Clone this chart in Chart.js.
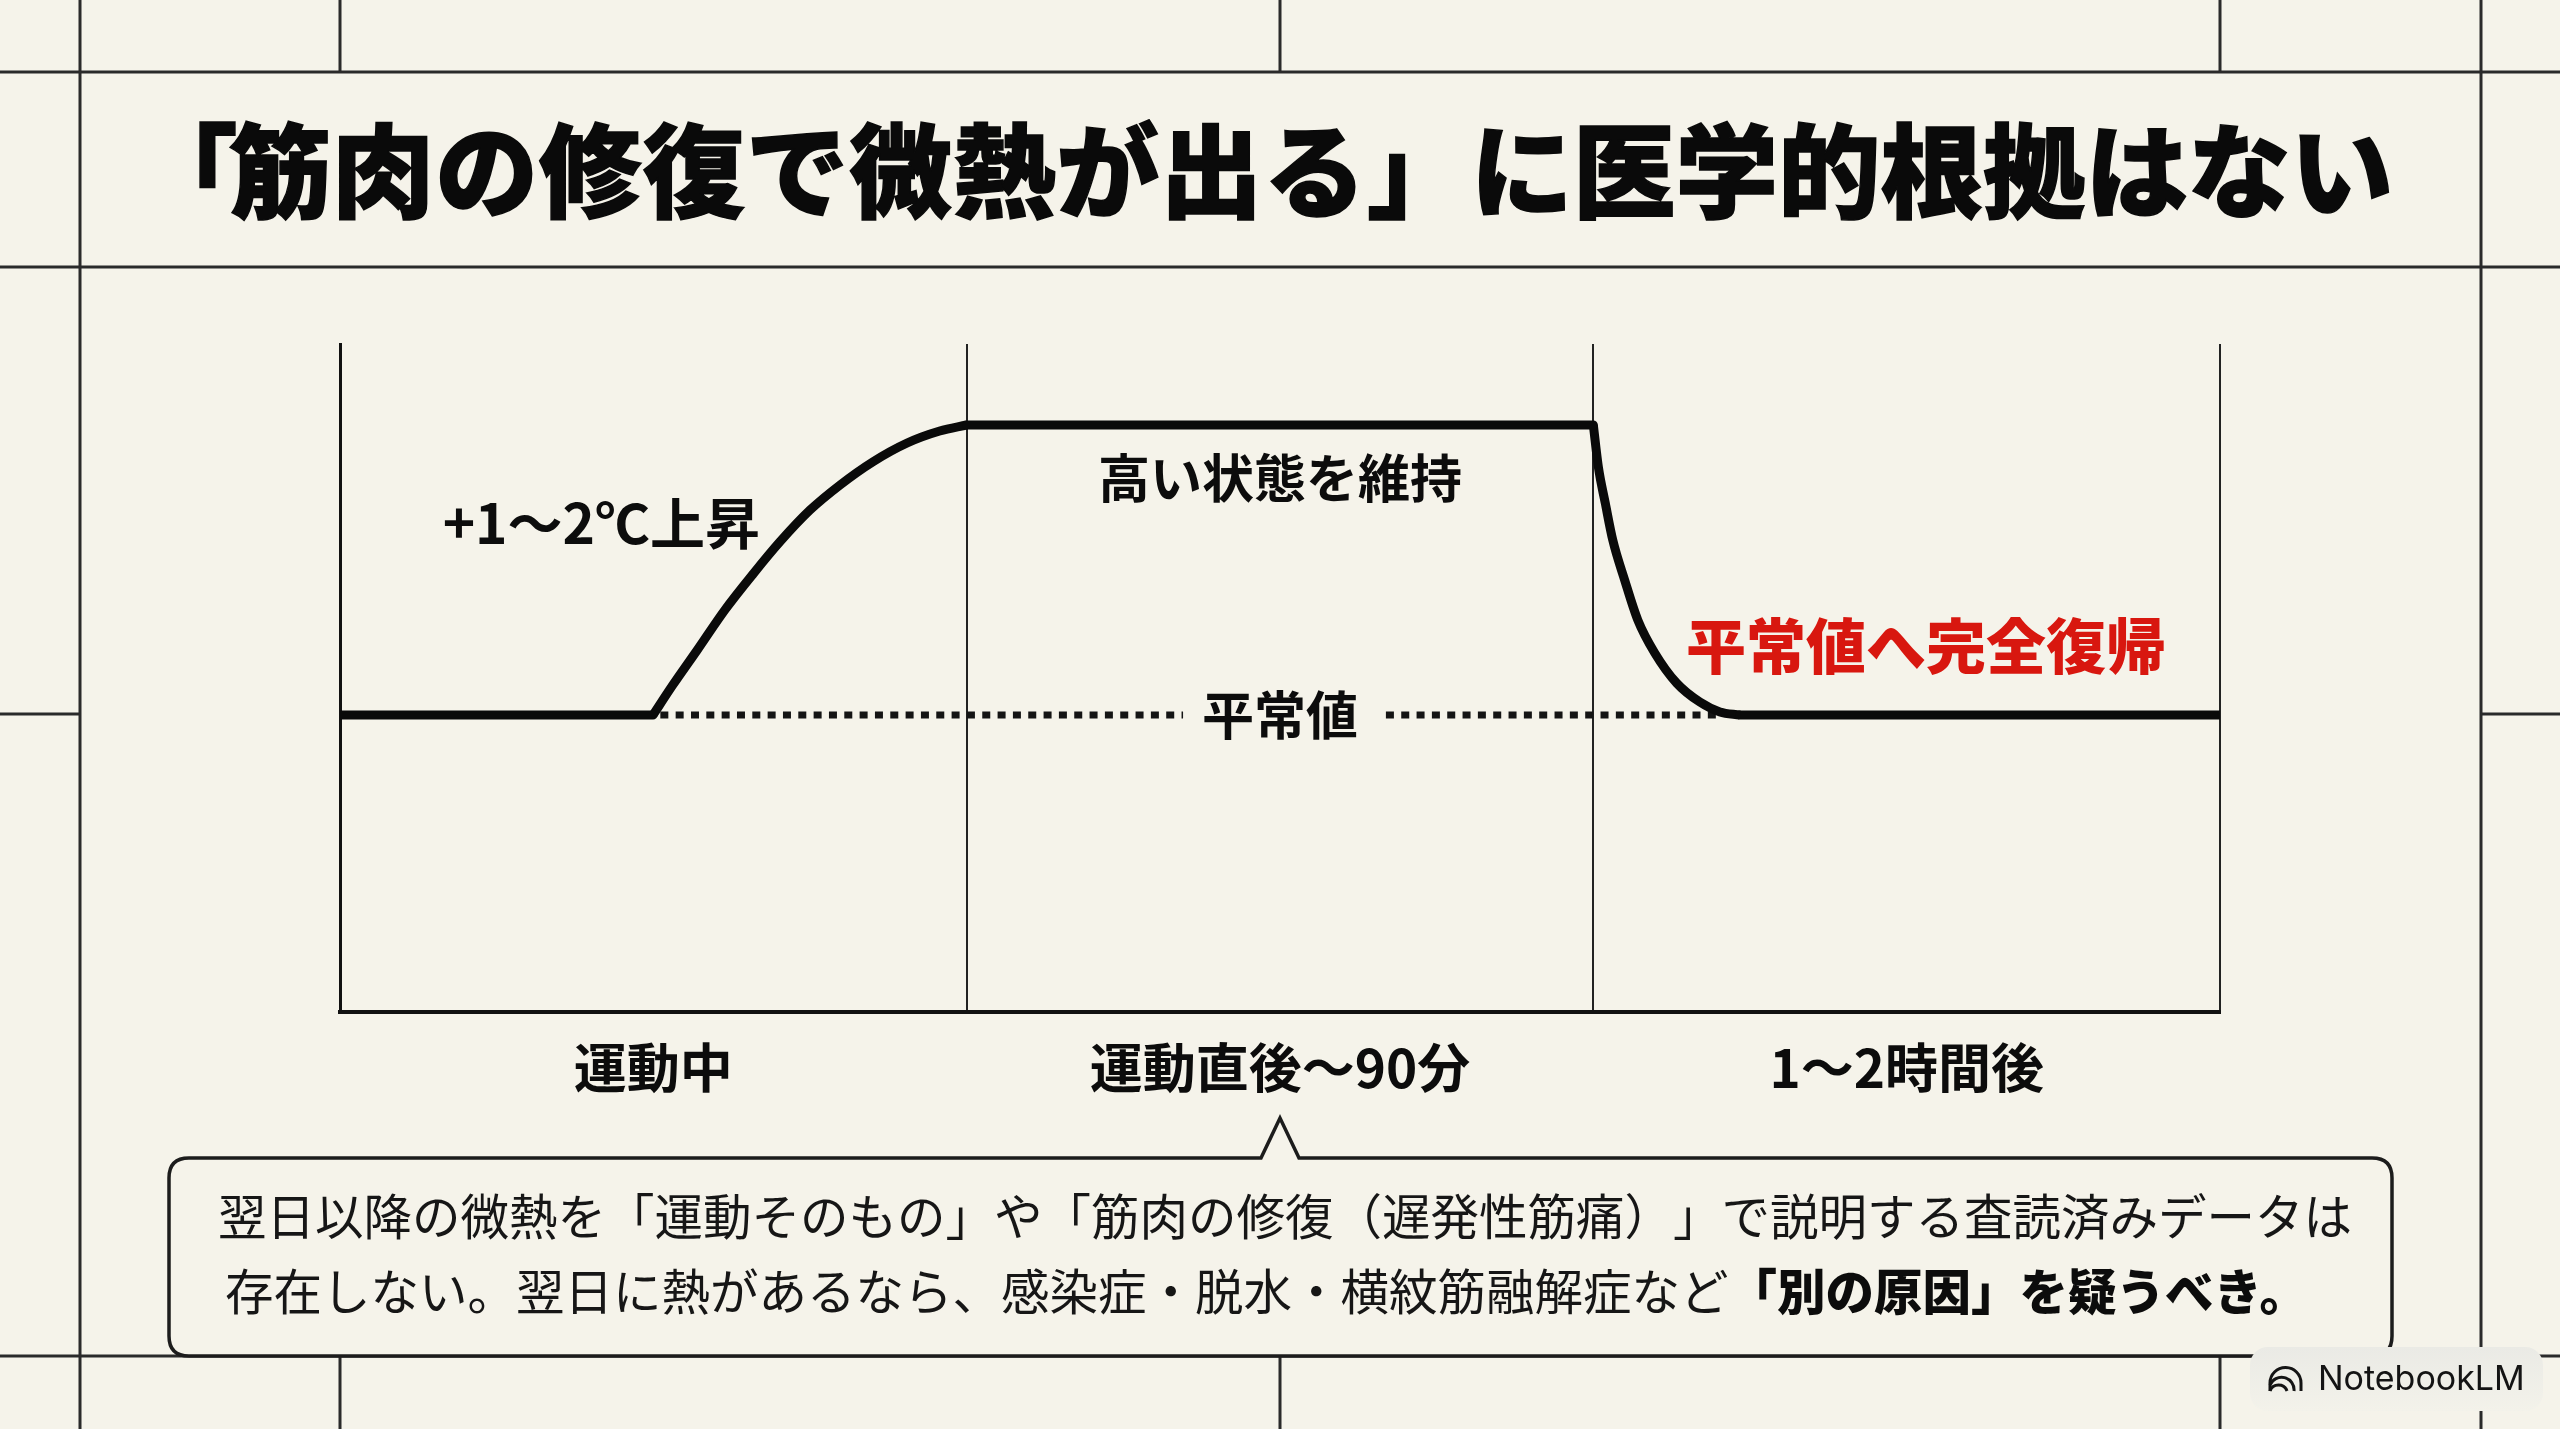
<!DOCTYPE html>
<html lang="ja">
<head>
<meta charset="utf-8">
<title>筋肉の修復と微熱</title>
<script src="https://cdn.jsdelivr.net/npm/chart.js@4/dist/chart.umd.min.js"></script>
<style>
  html, body { margin: 0; padding: 0; background: #f5f3ea; }
  body { position: relative; width: 2560px; height: 1429px; overflow: hidden;
         font-family: "Noto Sans CJK JP", "Noto Sans", sans-serif; color: #0c0c0c;
         text-spacing-trim: space-all; }
  canvas, svg { position: absolute; left: 0; top: 0; }
  h1 { position: absolute; left: 135px; top: 91px; margin: 0; font-size: 102.5px; line-height: 150px;
       font-weight: 900; white-space: nowrap; -webkit-text-stroke: 1.5px #0a0a0a; color: #0a0a0a; }
  .line { position: absolute; font-size: 48.5px; line-height: 72px; white-space: nowrap; color: #161616; }
  .line b { font-weight: 900; color: #0c0c0c; }
  .badge { position: absolute; left: 2250px; top: 1347px; width: 293px; height: 64px; border-radius: 18px;
           background: linear-gradient(#eaeae5, #f3f2ea); }
  .badge span { position: absolute; left: 68px; top: 9px; font: 400 34px/44px Inter, sans-serif; color: #141414; }
</style>
</head>
<body>
<canvas id="tempChart" width="2560" height="1429"></canvas>
<h1><span style="letter-spacing:-9px">「</span><span style="letter-spacing:1px">筋肉の修復で微熱が出る」</span>に医学的根拠はない</h1>
<svg width="2560" height="1429" viewBox="0 0 2560 1429">
  <path d="M189 1158 H1261 L1280 1118 L1299 1158 H2372 Q2392 1158 2392 1178 V1336 Q2392 1356 2372 1356 H189 Q169 1356 169 1336 V1178 Q169 1158 189 1158 Z"
        fill="#f5f3ea" stroke="#1c1c1c" stroke-width="3.5"/>
</svg>
<div class="line" style="left:218px;top:1178px">翌日以降の微熱を「運動そのもの」や「筋肉の修復（遅発性筋痛）」で説明する査読済みデータは</div>
<div class="line" style="left:225px;top:1253px">存在しない。翌日に熱があるなら、感染症・脱水・横紋筋融解症など<b>「別の原因」を疑うべき。</b></div>
<div class="badge"><span>NotebookLM</span></div>
<svg width="2560" height="1429" viewBox="0 0 2560 1429">
  <g fill="none" stroke="#141414" stroke-width="3">
    <path d="M2270 1391 V1383 A15.5 15.5 0 0 1 2301 1383 V1391"/>
    <path d="M2270 1385 A12.5 12.5 0 0 1 2294 1391"/>
    <path d="M2270 1391 A9 9 0 0 1 2287 1391"/>
  </g>
</svg>
<script>
// time columns under the chart
const timeLabels = ["運動中", "運動直後〜90分", "1〜2時間後"];

// body temperature above the usual value, x in columns (0-3)
const levelX = [0, 0.4995, 0.75, 1, 2, 2.1, 2.234, 3];
const levelY = [0, 0, null, 1.5, 1.5, null, 0, 0];

const riseX = [0.4995, 0.531, 0.570, 0.614, 0.660, 0.702, 0.750, 0.798, 0.850, 0.905, 0.957, 1];
const riseY = [0, 0.155, 0.336, 0.543, 0.733, 0.896, 1.060, 1.190, 1.309, 1.407, 1.469, 1.5];

const fallX = [2, 2.008, 2.019, 2.031, 2.050, 2.071, 2.098, 2.133, 2.170, 2.202, 2.234];
const fallY = [1.5, 1.283, 1.097, 0.905, 0.698, 0.491, 0.321, 0.165, 0.067, 0.016, 0];

// dotted usual-value line, broken around its label
const usualX = [0.4867, 1.3453, 1.5, 1.669, 2.202];
const usualY = [0, 0, null, 0, 0];

// notes inside the plot
const noteTexts = ["+1〜2℃上昇", "高い状態を維持", "平常値", "平常値へ完全復帰"];
const noteX = [0.417, 1.5, 1.5, 2.531];
const noteY = [0.993, 1.226, 0, 0.357];

const toPoints = (xs, ys) => xs.map((x, i) => ({ x: x, y: ys[i] }));

// page frame behind the chart
const frameLines = {
  id: "frameLines",
  beforeDraw(chart) {
    const c = chart.ctx;
    c.save();
    c.strokeStyle = "#2a2a2a";
    c.lineWidth = 3;
    c.beginPath();
    [72, 267, 1356].forEach(y => { c.moveTo(0, y); c.lineTo(2560, y); });
    [80, 2481].forEach(x => { c.moveTo(x, 0); c.lineTo(x, 1429); });
    [340, 1280, 2220].forEach(x => {
      c.moveTo(x, 0); c.lineTo(x, 72);
      c.moveTo(x, 1356); c.lineTo(x, 1429);
    });
    c.moveTo(0, 714); c.lineTo(80, 714);
    c.moveTo(2481, 714); c.lineTo(2560, 714);
    c.stroke();
    c.restore();
  }
};

// text labels placed with the chart's scales
const plotNotes = {
  id: "plotNotes",
  afterDatasetsDraw(chart) {
    const c = chart.ctx;
    c.save();
    c.textAlign = "center";
    c.textBaseline = "middle";
    noteTexts.forEach((text, i) => {
      const strong = i === 3;
      const size = i === 0 ? 55 : 52;
      c.font = (strong ? "900 60px" : "700 " + size + "px") + ' "Noto Sans CJK JP"';
      c.fillStyle = strong ? "#d8170f" : "#0c0c0c";
      const px = chart.scales.x.getPixelForValue(noteX[i]);
      const py = chart.scales.y.getPixelForValue(noteY[i]);
      c.fillText(text, px, py);
    });
    c.restore();
  }
};

new Chart(document.getElementById("tempChart").getContext("2d"), {
  type: "line",
  data: {
    datasets: [
      { label: "平坦部", data: toPoints(levelX, levelY), borderColor: "#0a0a0a", borderWidth: 9, pointRadius: 0, borderCapStyle: "round" },
      { label: "上昇", data: toPoints(riseX, riseY), borderColor: "#0a0a0a", borderWidth: 9, pointRadius: 0, cubicInterpolationMode: "monotone" },
      { label: "下降", data: toPoints(fallX, fallY), borderColor: "#0a0a0a", borderWidth: 9, pointRadius: 0, cubicInterpolationMode: "monotone" },
      { label: "平常値", data: toPoints(usualX, usualY), borderColor: "#141414", borderWidth: 7, pointRadius: 0, borderDash: [8, 7.33] }
    ]
  },
  options: {
    responsive: false,
    animation: false,
    devicePixelRatio: 1,
    layout: { padding: { left: 340, right: 340, top: 344, bottom: 307 } },
    plugins: { legend: { display: false }, tooltip: { enabled: false } },
    scales: {
      x: {
        type: "linear",
        min: 0,
        max: 3,
        afterFit: scale => { scale.height = 110; },
        grid: { color: ctx => (ctx.tick.value % 1 === 0 ? "#222" : "transparent"), lineWidth: 2, drawTicks: false },
        border: { color: "#111", width: 4 },
        ticks: {
          stepSize: 0.5,
          autoSkip: false,
          maxRotation: 0,
          padding: 24,
          color: "#0c0c0c",
          font: { family: '"Noto Sans CJK JP"', size: 53, weight: "700" },
          callback: v => (v % 1 === 0 ? "" : timeLabels[Math.floor(v)])
        }
      },
      y: {
        min: -1.536,
        max: 1.919,
        afterFit: scale => { scale.width = 0; },
        grid: { display: false },
        border: { color: "#111", width: 3 },
        ticks: { display: false }
      }
    }
  },
  plugins: [frameLines, plotNotes]
});
</script>
</body>
</html>
